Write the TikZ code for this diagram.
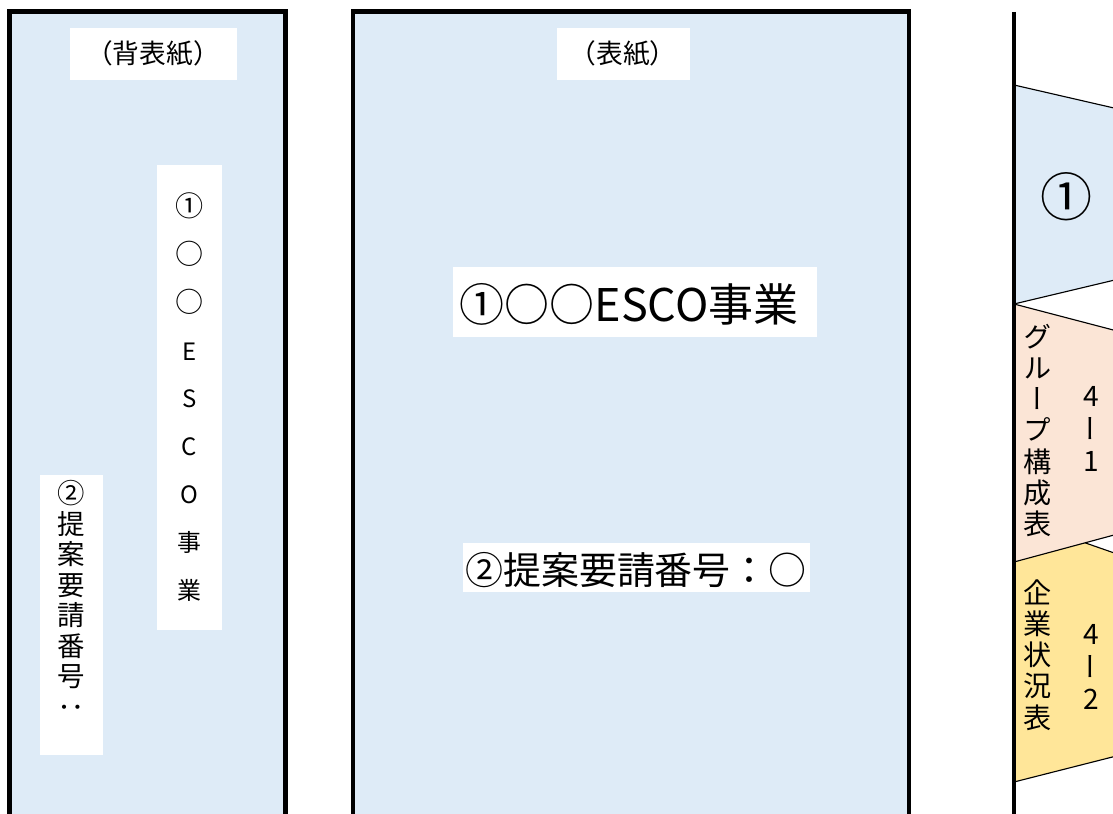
\documentclass[tikz,border=0pt]{standalone}
\usepackage{fontspec}
\setmainfont{Noto Sans CJK JP}
\newfontfamily\tate[RawFeature=+vert]{Noto Sans CJK JP}
\definecolor{sheet}{HTML}{DEEBF7}
\definecolor{peach}{HTML}{FBE5D6}
\definecolor{gold}{HTML}{FFE699}
\newcommand{\maru}[1]{{\fontsize{20}{34}\selectfont #1}}

\begin{document}
\begin{tikzpicture}[x=0.025cm, y=-0.025cm,
    panel/.style={draw, line width=3.2pt, fill=sheet},
    leaf/.style={draw, line width=0.8pt},
    column/.style={align=center, inner sep=0pt}]
    \useasboundingbox (0,0) rectangle (1113,814);
    \clip (0,0) rectangle (1113,814);
    \draw [panel] (9.5,11.5) rectangle (285.5,840);
    \draw [panel] (353,11.5) rectangle (909,840);
    \fill [white] (70,28) rectangle (237,80);
    \fill [white] (157,165) rectangle (222,630);
    \fill [white] (40,475) rectangle (103,755);
    \fill [white] (557,28) rectangle (690,80);
    \fill [white] (453,267) rectangle (817,337);
    \fill [white] (463,543) rectangle (810,592);
    \node (a) at (153,53) {\fontsize{19}{23}\selectfont （背表紙）};
    \node [column, font=\tate\fontsize{17}{34}\selectfont] (b) at (189.5,397) {\maru{①}\\\maru{○}\\\maru{○}\\E\\S\\C\\O\\事\\業};
    \node [column, font=\tate\fontsize{19.5}{21.7}\selectfont] (c) at (71,599) {②\\提\\案\\要\\請\\番\\号\\：};
    \node (d) at (623,53) {\fontsize{19}{23}\selectfont （表紙）};
    \node (e) at (629,304) {\fontsize{32}{38}\selectfont ①○○ESCO事業};
    \node (f) at (636,570) {\fontsize{27}{32}\selectfont ②提案要請番号：○};
    \filldraw [leaf, fill=sheet] (1014,85) -- (1140,114) -- (1140,274) -- (1014,304) -- cycle;
    \filldraw [leaf, fill=gold] (1014,518) -- (1140,562) -- (1140,750) -- (1014,782) -- cycle;
    \filldraw [leaf, fill=peach] (1014,304) -- (1140,337) -- (1140,528) -- (1014,562) -- cycle;
    \draw [line width=3pt] (1014,12) -- (1014,840);
    \node (g) at (1067,197) {\fontsize{37}{40}\selectfont ①};
    \node [column, font=\tate\fontsize{20}{22.2}\selectfont] (h) at (1038,430.5) {グ\\ル\\ー\\プ\\構\\成\\表};
    \node [column, font=\tate\fontsize{20}{22.8}\selectfont] (i) at (1091,429) {4\\ー\\1};
    \node [column, font=\tate\fontsize{20}{22.2}\selectfont] (j) at (1038,655) {企\\業\\状\\況\\表};
    \node [column, font=\tate\fontsize{20}{22.8}\selectfont] (k) at (1091,667) {4\\ー\\2};
\end{tikzpicture}
\end{document}
